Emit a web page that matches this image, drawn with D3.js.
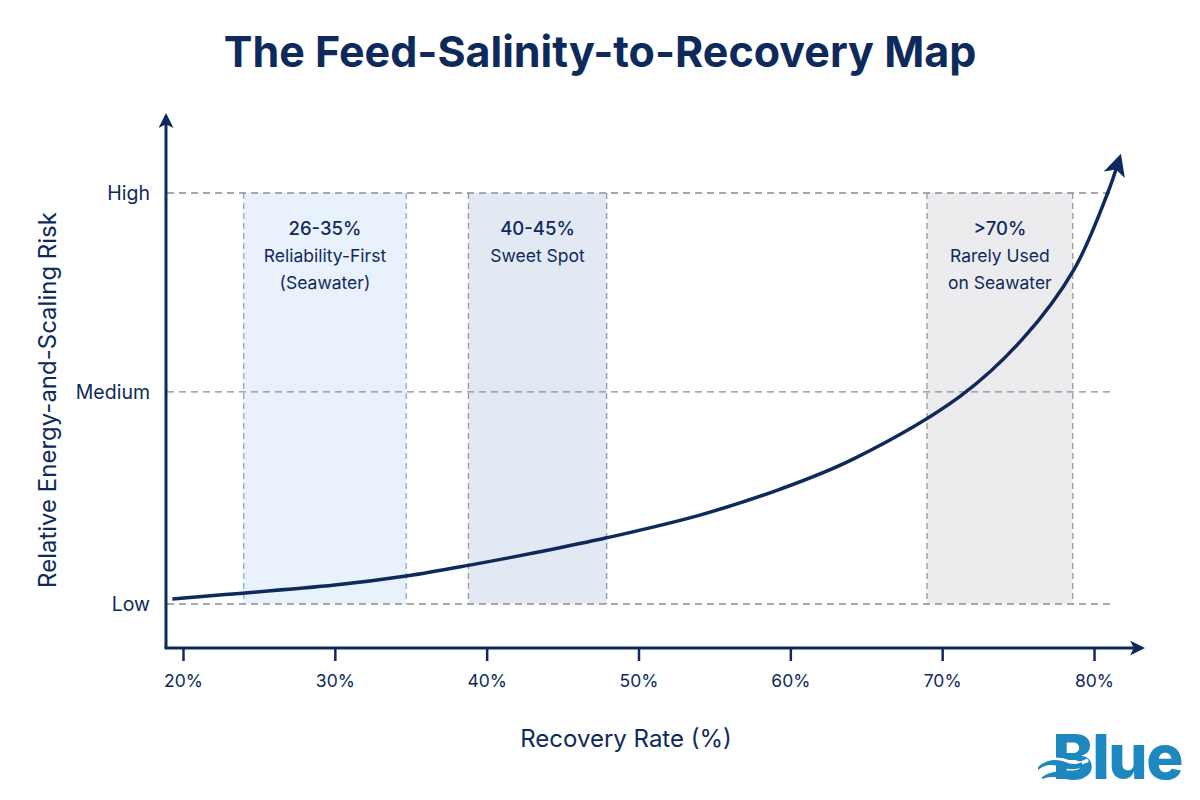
<!DOCTYPE html>
<html>
<head>
<meta charset="utf-8">
<script src="https://cdn.jsdelivr.net/npm/d3@7"></script>
<style>
  body { margin: 0; background: #fff; }
  svg { font-family: Inter, "Noto Sans", sans-serif; }
</style>
</head>
<body>
<svg id="chart" width="1200" height="800"></svg>
<script>
// recovery rate (%) vs relative risk (0 = Low, 1 = High)
var recovery = [19.3, 22.4, 30, 34.7, 38.8, 43.5, 47.9, 54.1, 59.3, 64.1, 71.2, 75.3, 78.7, 80.9, 81.6];
var risk = [0.012, 0.022, 0.046, 0.068, 0.094, 0.127, 0.161, 0.217, 0.279, 0.352, 0.506, 0.645, 0.815, 1.0, 1.075];

var xTicks = [20, 30, 40, 50, 60, 70, 80];
var levelNames = ['Low', 'Medium', 'High'];
var levelValues = [0, 0.516, 1];

var bandStart = [24, 38.8, 69];
var bandEnd = [34.7, 47.9, 78.6];
var bandLines = [
  ['26-35%', 'Reliability-First', '(Seawater)'],
  ['40-45%', 'Sweet Spot'],
  ['>70%', 'Rarely Used', 'on Seawater']
];

var navy = '#0e2a5c';
var width = 1200, height = 800;

var svg = d3.select('#chart');

var x = d3.scaleLinear().domain([20, 80]).range([183, 1094]);
var y = d3.scaleLinear().domain([0, 1]).range([604, 193]);

var defs = svg.append('defs');
function addArrow(id, size, ref) {
  defs.append('marker')
    .attr('id', id)
    .attr('viewBox', '0 0 10 10')
    .attr('refX', ref).attr('refY', 5)
    .attr('markerWidth', size).attr('markerHeight', size)
    .attr('markerUnits', 'userSpaceOnUse')
    .attr('orient', 'auto')
  .append('path')
    .attr('d', 'M0,0 L10,5 L0,10 L2.5,5 Z')
    .attr('fill', navy);
}
addArrow('arrow', 15, 8);
addArrow('curveArrow', 22, 6);

//title
svg.append('text')
    .attr('x', width / 2).attr('y', 67)
    .attr('text-anchor', 'middle')
    .attr('font-size', 43).attr('font-weight', 700)
    .attr('fill', navy)
    .text('The Feed-Salinity-to-Recovery Map');

//bands
var bandFill = ['#e9f1fc', '#e3e9f3', '#ececef'];
var bandStroke = ['#7ea8e0', '#8f98a8', '#9a9a9e'];

var bands = svg.append('g').selectAll('g')
    .data(bandStart)
    .enter().append('g');

bands.append('rect')
    .attr('x', function(d) { return x(d) })
    .attr('y', y(1))
    .attr('width', function(d, i) { return x(bandEnd[i]) - x(d) })
    .attr('height', y(0) - y(1))
    .attr('fill', function(d, i) { return bandFill[i] });

bands.each(function(d, i) {
  var g = d3.select(this);
  [d, bandEnd[i]].forEach(function(v) {
    g.append('line')
      .attr('x1', x(v)).attr('x2', x(v))
      .attr('y1', y(1)).attr('y2', y(0))
      .attr('stroke', bandStroke[i])
      .attr('stroke-width', 1.3)
      .attr('stroke-dasharray', '6,4');
  });
  var cx = x((d + bandEnd[i]) / 2);
  bandLines[i].forEach(function(t, j) {
    g.append('text')
      .attr('x', cx).attr('y', 235 + j * 27)
      .attr('text-anchor', 'middle')
      .attr('font-size', j == 0 ? 18.5 : 17.5)
      .attr('font-weight', j == 0 ? 500 : 400)
      .attr('fill', navy)
      .text(t);
  });
});

//gridlines
svg.append('g').selectAll('line')
    .data(levelValues)
    .enter().append('line')
    .attr('x1', 167).attr('x2', 1115)
    .attr('y1', function(d) { return y(d) })
    .attr('y2', function(d) { return y(d) })
    .attr('stroke', '#8a8d94')
    .attr('stroke-width', 1.4)
    .attr('stroke-dasharray', '7,5');

//y labels
svg.append('g').selectAll('text')
    .data(levelValues)
    .enter().append('text')
    .attr('x', 150)
    .attr('y', function(d) { return y(d) + 7 })
    .attr('text-anchor', 'end')
    .attr('font-size', 19.5)
    .attr('fill', navy)
    .text(function(d, i) { return levelNames[i] });

//axes
svg.append('line')
    .attr('x1', 166).attr('y1', 648).attr('x2', 166).attr('y2', 116)
    .attr('stroke', navy).attr('stroke-width', 3)
    .attr('marker-end', 'url(#arrow)');
svg.append('line')
    .attr('x1', 164.5).attr('y1', 648).attr('x2', 1142).attr('y2', 648)
    .attr('stroke', navy).attr('stroke-width', 3)
    .attr('marker-end', 'url(#arrow)');

var xAxis = svg.append('g')
    .attr('transform', 'translate(0,648)')
    .call(d3.axisBottom(x).tickValues(xTicks).tickSize(13).tickPadding(14)
      .tickFormat(function(d) { return d + '%' }));
xAxis.select('.domain').remove();
xAxis.selectAll('line').attr('stroke', navy).attr('stroke-width', 2.5);
xAxis.selectAll('text')
    .attr('fill', navy)
    .attr('font-size', 17.5)
    .attr('font-family', 'Inter, "Noto Sans", sans-serif');

//axis titles
svg.append('text')
    .attr('x', 626).attr('y', 747)
    .attr('text-anchor', 'middle')
    .attr('font-size', 24)
    .attr('fill', navy)
    .text('Recovery Rate (%)');
svg.append('text')
    .attr('transform', 'translate(56,400) rotate(-90)')
    .attr('text-anchor', 'middle')
    .attr('font-size', 24)
    .attr('fill', navy)
    .text('Relative Energy-and-Scaling Risk');

//risk curve
var line = d3.line()
    .x(function(d) { return x(d) })
    .y(function(d, i) { return y(risk[i]) })
    .curve(d3.curveCatmullRom.alpha(0.5));

svg.append('path')
    .datum(recovery)
    .attr('d', line)
    .attr('fill', 'none')
    .attr('stroke', navy)
    .attr('stroke-width', 3.5)
    .attr('marker-end', 'url(#curveArrow)');

//logo
var logo = svg.append('g');
logo.append('text')
    .attr('x', 1182).attr('y', 779)
    .attr('text-anchor', 'end')
    .attr('font-size', 62).attr('font-weight', 800)
    .attr('fill', '#1d87bf')
    .attr('letter-spacing', -1.5)
    .text('Blue');
logo.append('path')
    .attr('d', 'M1036,767 C1048,757 1060,758 1070,762 C1077,765 1082,764 1088,760')
    .attr('fill', 'none').attr('stroke', '#fff').attr('stroke-width', 3.5);
logo.append('path')
    .attr('d', 'M1038,767 C1048,758 1058,759 1068,763 C1074,765 1078,764 1082,762 L1082,767 C1074,771 1066,769 1058,766 C1050,764 1044,765 1038,770 Z')
    .attr('fill', '#1d87bf');
logo.append('path')
    .attr('d', 'M1042,777 C1052,770 1062,771 1070,774 C1076,776 1080,775 1084,773 L1084,778 C1076,781 1068,780 1060,778 C1052,776 1048,777 1042,779 Z')
    .attr('fill', '#1d87bf');
</script>
</body>
</html>
